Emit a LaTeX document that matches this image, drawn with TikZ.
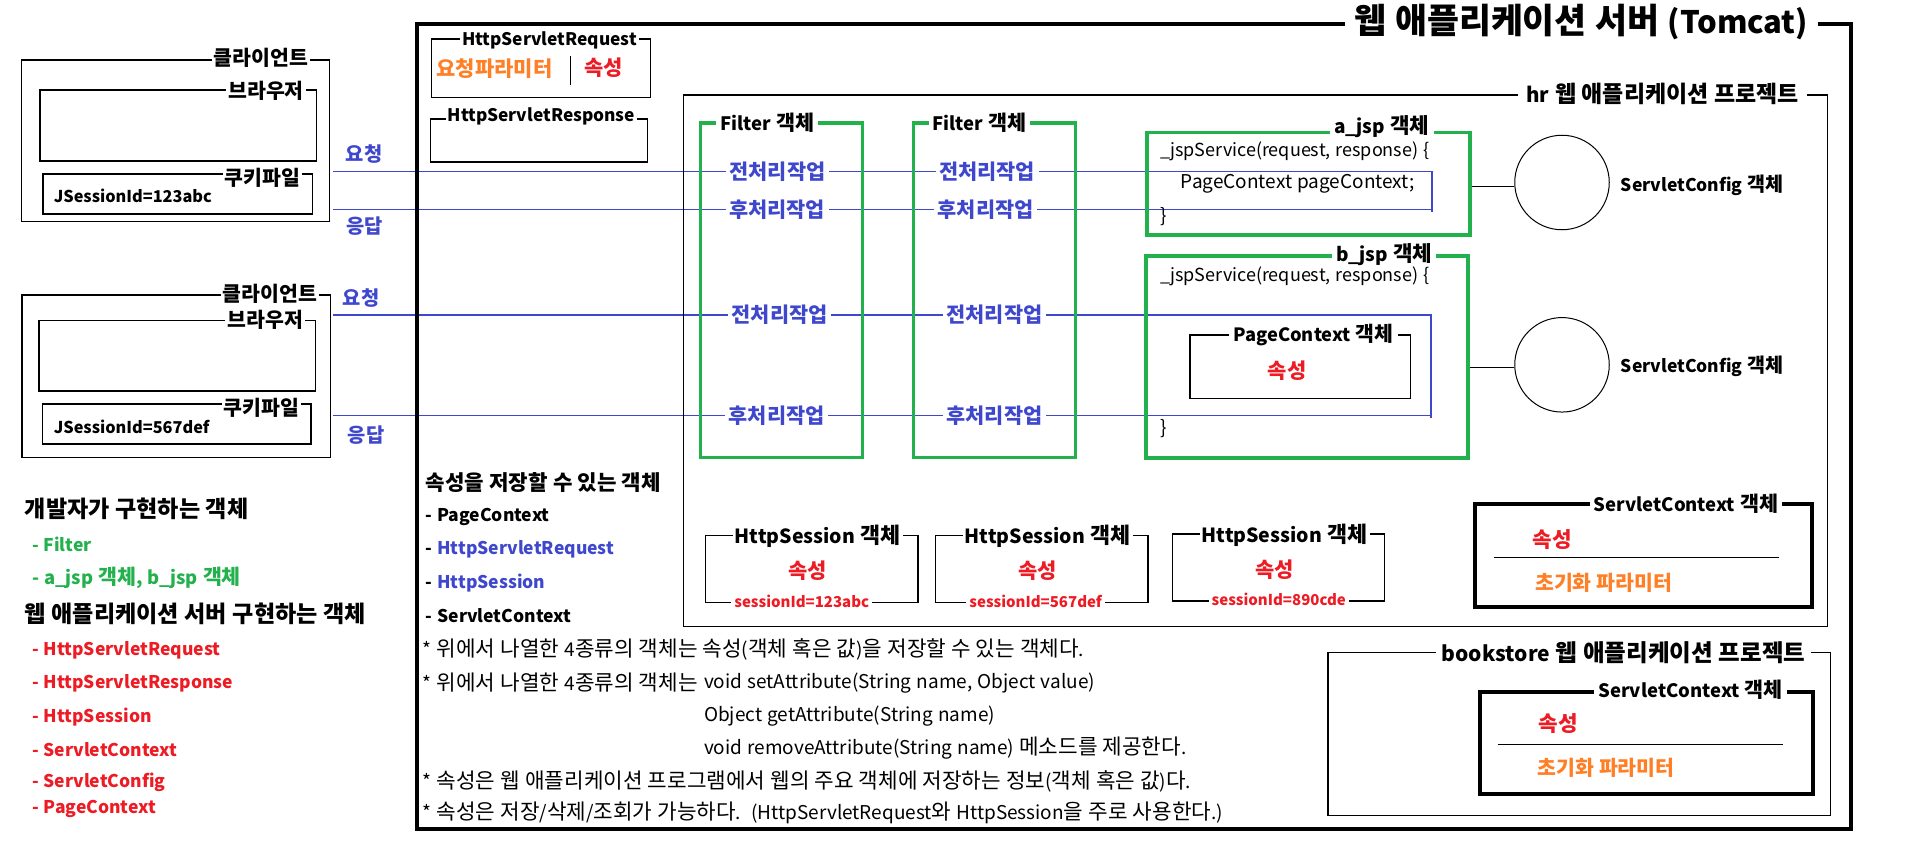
\documentclass[tikz,border=0pt]{standalone}
\usepackage{fontspec}
\setmainfont[WordSpace=1.2]{Noto Sans CJK KR}
\newfontfamily\hangulfont[Scale=1.12]{Noto Sans CJK KR}
\usetikzlibrary{calc}
\definecolor{paintred}{RGB}{237,28,36}
\definecolor{paintorange}{RGB}{255,127,39}
\definecolor{paintgreen}{RGB}{34,177,76}
\definecolor{paintblue}{RGB}{63,72,204}
\newcommand\setfs[1]{\fontsize{#1}{#1}\selectfont}

%% hangul syllables a bit larger than the latin letters
\XeTeXinterchartokenstate=1
\newXeTeXintercharclass\hangulclass
\newcount\hgcount
\hgcount="AC00
\loop
    \XeTeXcharclass\hgcount=\hangulclass
    \ifnum\hgcount<"D7A3 \advance\hgcount by 1 \repeat
\XeTeXinterchartoks 0 \hangulclass = {\begingroup\hangulfont}
\XeTeXinterchartoks 4095 \hangulclass = {\begingroup\hangulfont}
\XeTeXinterchartoks \hangulclass 0 = {\endgroup}
\XeTeXinterchartoks \hangulclass 4095 = {\endgroup}

\tikzset{
    objbox/.style 2 args={draw, line width=1.3pt, inner sep=0pt, anchor=north west,
        minimum width=#1pt, minimum height=#2pt},
    thickbox/.style 2 args={objbox={#1}{#2}, line width=4pt},
    greenbox/.style 2 args={objbox={#1}{#2}, draw=paintgreen, line width=3.5pt},
    ttl/.style={fill=white, inner sep=2pt, font=\bfseries\setfs{18.3}},
    work/.style={text=paintblue, inner sep=3.5pt, font=\bfseries\setfs{18.6}},
    flow/.style={text=paintblue, inner sep=0pt, font=\bfseries\setfs{17.7}},
    attr/.style={text=paintred, inner sep=0pt, font=\bfseries\setfs{18.7}},
    txt/.style={anchor=west, inner sep=0pt, font=\setfs{19}},
    btxt/.style={anchor=west, inner sep=0pt, font=\bfseries\setfs{17.5}},
    reqline/.style={draw=paintblue, line width=1.2pt},
}

\begin{document}
\begin{tikzpicture}[x=1pt,y=-1pt]
    \useasboundingbox (0,0) rectangle (1912,867);

    %% pre / post processing labels on the request lines
    \node[work] (preA1) at (777.5,171.3) {전처리작업};
    \node[work] (preA2) at (987.2,171.3) {전처리작업};
    \node[work] (postA1) at (777.2,209.3) {후처리작업};
    \node[work] (postA2) at (985.7,209.3) {후처리작업};
    \node[work] (preB1) at (779.7,315) {전처리작업};
    \node[work] (preB2) at (994.5,315) {전처리작업};
    \node[work] (postB1) at (776.7,415.3) {후처리작업};
    \node[work] (postB2) at (994.5,415.3) {후처리작업};

    \node[flow] (reqlblA) at (364,154) {요청};
    \node[flow] (reslblA) at (364.5,225.7) {응답};
    \node[flow] (reqlblB) at (361,298.3) {요청};
    \node[flow] (reslblB) at (366,435) {응답};

    \coordinate (reqA) at (333,171.3);
    \coordinate (resA) at (333,209.3);
    \coordinate (turnA) at (1432,171.3);
    \coordinate (reqB) at (333,315);
    \coordinate (resB) at (333,415.3);
    \coordinate (turnB) at (1431,315);

    \draw[reqline] (reqA) -- (preA1) -- (preA2) -- (turnA) -- ++(0,41);
    \draw[reqline] (turnA |- resA) -- (postA2) -- (postA1) -- (resA);
    \draw[reqline] (reqB) -- (preB1) -- (preB2) -- (turnB) -- ++(0,103);
    \draw[reqline] (turnB |- resB) -- (postB2) -- (postB1) -- (resB);

    %% clients
    \node[objbox={308}{161.7}] (client1) at (20.5,59.3) {};
    \node[ttl] (client1t) at (261,58) {클라이언트};
    \node[objbox={276.3}{71}] (browser1) at (39.3,89.3) {};
    \node[ttl] (browser1t) at (266,90.7) {브라우저};
    \node[objbox={269.2}{40}] (cookie1) at (42.4,173.3) {};
    \node[ttl] (cookie1t) at (262.5,177.5) {쿠키파일};
    \node[btxt, font=\bfseries\setfs{16.3}] (sid1) at (53.6,196) {JSessionId=123abc};

    \node[objbox={308.1}{162.4}] (client2) at (21.4,294.3) {};
    \node[ttl] (client2t) at (270,294) {클라이언트};
    \node[objbox={276.3}{70.6}] (browser2) at (38.4,319.7) {};
    \node[ttl] (browser2t) at (265.2,320) {브라우저};
    \node[objbox={268.8}{40}] (cookie2) at (41.5,403.3) {};
    \node[ttl] (cookie2t) at (261.4,408.3) {쿠키파일};
    \node[btxt, font=\bfseries\setfs{16.3}] (sid2) at (53.6,426.7) {JSessionId=567def};

    %% web application server
    \node[thickbox={1433.5}{805.5}] (tomcat) at (415,21.7) {};
    \node[ttl, inner sep=10pt, font=\bfseries\setfs{31}] (tomcatt) at (1581.4,21.7) {웹 애플리케이션 서버 (Tomcat)};

    \node[objbox={218.6}{58.4}] (request) at (431,38.3) {};
    \node[ttl, font=\bfseries\setfs{17.3}] (requestt) at (549.5,40.7) {HttpServletRequest};
    \node[text=paintorange, font=\bfseries\setfs{18.7}, inner sep=0pt] (param) at (494.5,68.3) {요청파라미터};
    \draw[line width=1.3pt] (570.5,55.7) -- (570.5,85);
    \node[attr] (reqattr) at (603.5,68) {속성};

    \node[objbox={217.5}{43}] (response) at (429.5,118.3) {};
    \node[ttl, font=\bfseries\setfs{17.3}] (responset) at (541.4,116) {HttpServletResponse};

    %% hr project
    \node[objbox={1144.5}{531.7}] (hr) at (682.5,94.3) {};
    \node[ttl, inner sep=8pt, font=\bfseries\setfs{20.5}] (hrt) at (1662.6,94.3) {hr 웹 애플리케이션 프로젝트};

    \node[greenbox={162.2}{334.4}] (filter1) at (698.5,121.3) {};
    \node[ttl, inner sep=4pt, font=\bfseries\setfs{18.5}] (filter1t) at (767.2,122.7) {Filter 객체};
    \node[greenbox={161.8}{334.4}] (filter2) at (911.8,121.3) {};
    \node[ttl, inner sep=4pt, font=\bfseries\setfs{18.5}] (filter2t) at (979.5,122.7) {Filter 객체};

    \node[greenbox={323.3}{102.6}] (ajsp) at (1145,130.7) {};
    \node[ttl, inner sep=4pt, font=\bfseries\setfs{19}] (ajspt) at (1382,126.7) {a\_jsp 객체};
    \node[txt, font=\setfs{18}] (acode1) at (1160,151.7) {\_jspService(request, response) \{};
    \node[txt] (acode2) at (1180.7,183.3) {PageContext pageContext;};
    \node[txt] (acode3) at (1160,216.7) {\}};

    \node[greenbox={322}{201.7}] (bjsp) at (1144,254.3) {};
    \node[ttl, inner sep=4pt, font=\bfseries\setfs{19}] (bjspt) at (1384.3,255) {b\_jsp 객체};
    \node[txt, font=\setfs{18}] (bcode1) at (1160,276) {\_jspService(request, response) \{};
    \node[txt] (bcode3) at (1160,428.5) {\}};
    \node[objbox={220.7}{63.7}] (page) at (1189.3,334.3) {};
    \node[ttl, inner sep=4pt, font=\bfseries\setfs{18.3}] (paget) at (1313.4,335.5) {PageContext 객체};
    \node[attr] (pageattr) at (1287,370.5) {속성};

    \node[draw, circle, line width=1pt, minimum size=94.5pt] (config1) at (1562,182.5) {};
    \node[draw, circle, line width=1pt, minimum size=94.5pt] (config2) at (1562,364.8) {};
    \draw[line width=1.3pt] ([yshift=-4pt]config1.west) -- ([yshift=-4pt]config1.west -| ajsp.east);
    \draw[line width=1.3pt] ([yshift=-3pt]config2.west) -- ([yshift=-3pt]config2.west -| bjsp.east);
    \node[btxt] (config1l) at (1620.6,185) {ServletConfig 객체};
    \node[btxt] (config2l) at (1620.6,366.7) {ServletConfig 객체};

    %% sessions
    \foreach \x/\y/\sx/\sid [count=\i] in {704.7/535/97.1/123abc, 934.8/535/100.9/567def, 1171.6/533.3/107.2/890cde} {
        \node[objbox={212.5}{67}] (sess\i) at (\x,\y) {};
        \node[ttl, font=\bfseries\setfs{19.5}] (sess\i t) at ($(sess\i.north west)+(113,1.5)$) {HttpSession 객체};
        \node[attr] (sess\i a) at ($(sess\i.north west)+(103,36)$) {속성};
        \node[ttl, text=paintred, inner sep=3pt, font=\bfseries\setfs{15}] (sess\i id) at ($(sess\i.south west)+(\sx,-2)$) {sessionId=\sid};
    }

    %% servlet context of hr
    \node[thickbox={337}{102.7}] (ctx1) at (1473.2,502.3) {};
    \node[ttl, inner sep=4pt, font=\bfseries\setfs{18.5}] (ctx1t) at (1686,503.3) {ServletContext 객체};
    \node[attr, font=\bfseries\setfs{19}] (ctx1a) at (1552.4,539.3) {속성};
    \draw[line width=1.3pt] (1494.2,557.3) -- (1779,557.3);
    \node[btxt, text=paintorange, font=\bfseries\setfs{18.3}] (ctx1p) at (1535,583.3) {초기화 파라미터};

    %% bookstore project
    \node[objbox={502.7}{163.3}] (book) at (1327.3,651.7) {};
    \node[ttl, inner sep=6pt, font=\bfseries\setfs{21}] (bookt) at (1623.5,652.7) {bookstore 웹 애플리케이션 프로젝트};
    \node[thickbox={333.7}{101.7}] (ctx2) at (1477.6,690) {};
    \node[ttl, inner sep=4pt, font=\bfseries\setfs{18.5}] (ctx2t) at (1690.7,690) {ServletContext 객체};
    \node[attr, font=\bfseries\setfs{19}] (ctx2a) at (1558.2,724) {속성};
    \draw[line width=1.3pt] (1497.9,744.3) -- (1782.8,744.3);
    \node[btxt, text=paintorange, font=\bfseries\setfs{18.3}] (ctx2p) at (1537.3,767.7) {초기화 파라미터};

    %% objects that store attributes
    \node[btxt, font=\bfseries\setfs{18.9}] (store) at (425.7,482.7) {속성을 저장할 수 있는 객체};
    \node[btxt] (store1) at (425.7,516.7) {- PageContext};
    \node[btxt] (store2) at (425.7,549.3) {- \textcolor{paintblue}{HttpServletRequest}};
    \node[btxt] (store3) at (425.7,582.7) {- \textcolor{paintblue}{HttpSession}};
    \node[btxt] (store4) at (425.7,615.3) {- ServletContext};

    \node[txt] (note1) at (422.6,649.3) {* 위에서 나열한 4종류의 객체는 속성(객체 혹은 값)을 저장할 수 있는 객체다.};
    \node[txt] (note2) at (422.6,682.7) {* 위에서 나열한 4종류의 객체는};
    \node[txt] (note2m) at (703.9,682.7) {void setAttribute(String name, Object value)};
    \node[txt] (note3) at (703.9,716) {Object getAttribute(String name)};
    \node[txt] (note4) at (703.9,747.7) {void removeAttribute(String name) 메소드를 제공한다.};
    \node[txt] (note5) at (422.6,781) {* 속성은 웹 애플리케이션 프로그램에서 웹의 주요 객체에 저장하는 정보(객체 혹은 값)다.};
    \node[txt] (note6) at (422.6,813.3) {* 속성은 저장/삭제/조회가 가능하다.\ \ (HttpServletRequest와 HttpSession을 주로 사용한다.)};

    %% legend
    \node[btxt, font=\bfseries\setfs{20.6}] (dev) at (24.6,509.3) {개발자가 구현하는 객체};
    \node[btxt, text=paintgreen] (dev1) at (32,544.3) {- Filter};
    \node[btxt, text=paintgreen, font=\bfseries\setfs{18.4}] (dev2) at (32,578.3) {- a\_jsp 객체, b\_jsp 객체};
    \node[btxt, font=\bfseries\setfs{20.6}] (srv) at (24.6,614) {웹 애플리케이션 서버 구현하는 객체};
    \foreach \y/\name [count=\i] in {650.7/HttpServletRequest, 683.3/HttpServletResponse, 716.7/HttpSession,
                                     749.3/ServletContext, 782.3/ServletConfig, 809.3/PageContext} {
        \node[btxt, text=paintred] (srv\i) at (32,\y) {- \name};
    }
\end{tikzpicture}
\end{document}
